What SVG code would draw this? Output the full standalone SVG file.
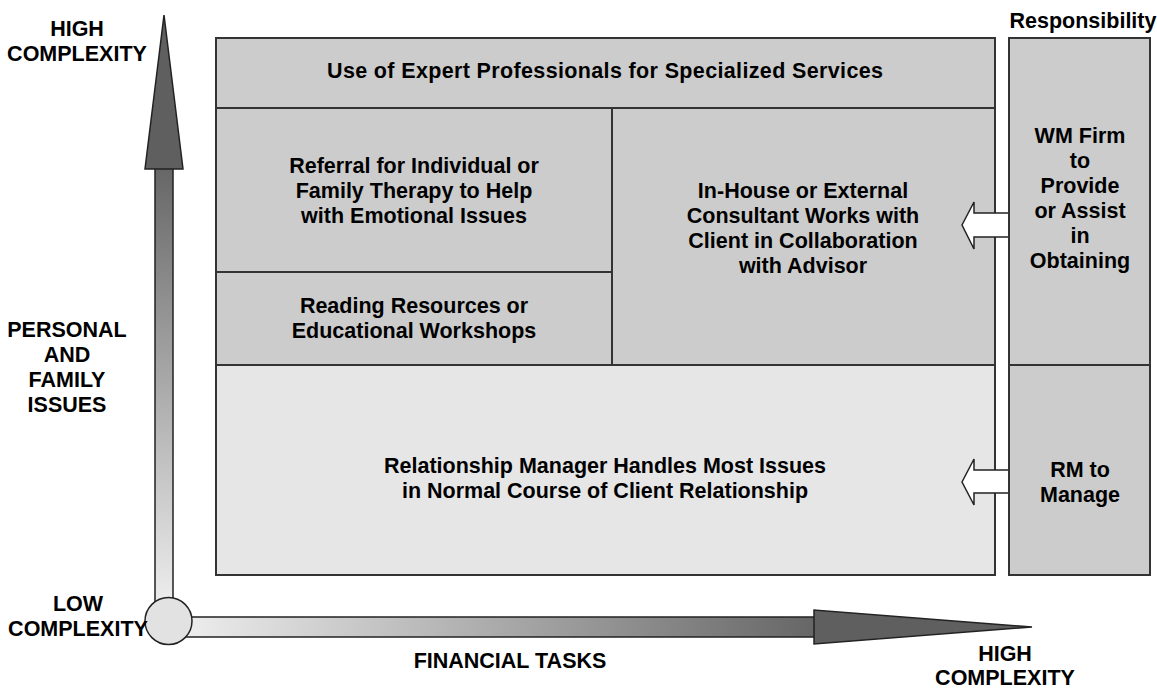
<svg xmlns="http://www.w3.org/2000/svg" width="1157" height="690" viewBox="0 0 1157 690">
<defs>
<linearGradient id="gv" x1="0" y1="0" x2="0" y2="1">
<stop offset="0" stop-color="#666666"/>
<stop offset="1" stop-color="#eeeeee"/>
</linearGradient>
<linearGradient id="gh" x1="0" y1="0" x2="1" y2="0">
<stop offset="0" stop-color="#eeeeee"/>
<stop offset="1" stop-color="#666666"/>
</linearGradient>
<style>
text{font-family:"Liberation Sans",Arial,sans-serif;font-weight:bold;font-size:21.5px;fill:#000;text-anchor:middle}
.dk{fill:#cccccc;stroke:#333333;stroke-width:2}
.lt{fill:#e6e6e6;stroke:#333333;stroke-width:2}
.ar{fill:#ffffff;stroke:#222222;stroke-width:1.5;stroke-linejoin:miter}
.ax{stroke:#222222;stroke-width:1.5}
</style>
</defs>
<rect width="1157" height="690" fill="#ffffff"/>

<g id="axes">
<rect x="155" y="166" width="18" height="440" fill="url(#gv)" class="ax"/>
<polygon points="164,15 183,169 145,169" fill="#5f5f5f" class="ax"/>
<rect x="180" y="617" width="636" height="20" fill="url(#gh)" class="ax"/>
<polygon points="1032,627 814,644 814,610" fill="#5f5f5f" class="ax"/>
<circle cx="168.5" cy="621" r="23.5" fill="#e2e2e2" class="ax"/>
</g>

<g id="axis-labels">
<text x="77" y="36">HIGH</text>
<text x="77" y="61">COMPLEXITY</text>
<text x="67" y="337">PERSONAL</text>
<text x="67" y="362">AND</text>
<text x="67" y="387">FAMILY</text>
<text x="67" y="412">ISSUES</text>
<text x="78" y="611">LOW</text>
<text x="78" y="636">COMPLEXITY</text>
<text x="510" y="668">FINANCIAL TASKS</text>
<text x="1005" y="661">HIGH</text>
<text x="1005" y="685">COMPLEXITY</text>
<text x="1083" y="28">Responsibility</text>
</g>

<g id="node-expert">
<rect x="216" y="38" width="779" height="70" class="dk"/>
<text x="605" y="78" textLength="556" lengthAdjust="spacing">Use of Expert Professionals for Specialized Services</text>
</g>

<g id="node-referral">
<rect x="216" y="108" width="396" height="164" class="dk"/>
<text x="414" y="173">Referral for Individual or</text>
<text x="414" y="198">Family Therapy to Help</text>
<text x="414" y="223">with Emotional Issues</text>
</g>

<g id="node-reading">
<rect x="216" y="272" width="396" height="93" class="dk"/>
<text x="414" y="313">Reading Resources or</text>
<text x="414" y="338">Educational Workshops</text>
</g>

<g id="node-consultant">
<rect x="612" y="108" width="383" height="257" class="dk"/>
<text x="803" y="198">In-House or External</text>
<text x="803" y="223">Consultant Works with</text>
<text x="803" y="248">Client in Collaboration</text>
<text x="803" y="273">with Advisor</text>
</g>

<g id="node-rm">
<rect x="216" y="365" width="779" height="210" class="lt"/>
<text x="605" y="473">Relationship Manager Handles Most Issues</text>
<text x="605" y="498">in Normal Course of Client Relationship</text>
</g>

<g id="connectors">
<polygon points="962,225 974,202 974,213 1009,213 1009,237 974,237 974,249" class="ar"/>
<polygon points="962,482 974,459 974,470 1009,470 1009,493 974,493 974,505" class="ar"/>
</g>

<g id="node-wm">
<rect x="1009" y="38" width="141" height="327" class="dk"/>
<text x="1080" y="143">WM Firm</text>
<text x="1080" y="168">to</text>
<text x="1080" y="193">Provide</text>
<text x="1080" y="218">or Assist</text>
<text x="1080" y="243">in</text>
<text x="1080" y="268">Obtaining</text>
</g>

<g id="node-rm-manage">
<rect x="1009" y="365" width="141" height="210" class="dk"/>
<text x="1080" y="477">RM to</text>
<text x="1080" y="502">Manage</text>
</g>
</svg>
